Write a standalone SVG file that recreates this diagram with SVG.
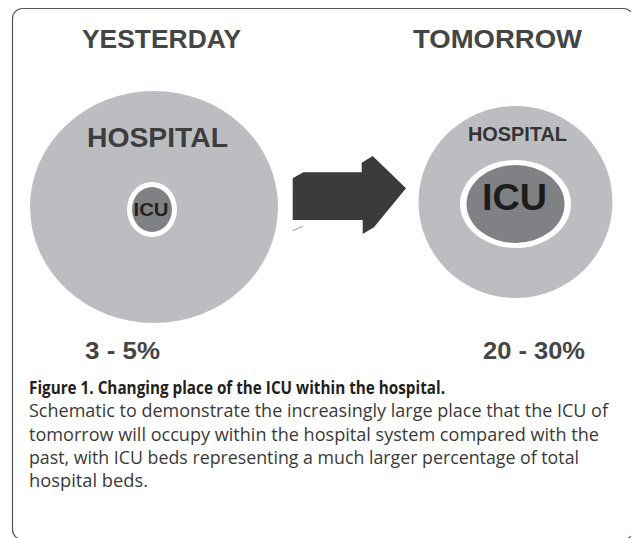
<svg xmlns="http://www.w3.org/2000/svg" width="631" height="538" viewBox="0 0 631 538">
  <style>
    .frame { fill: #ffffff; stroke: #555555; stroke-width: 1.2; }
    .hosp { fill: #bcbdc0; }
    .ring { fill: #ffffff; }
    .icu { fill: #808184; }
    .head { font-family: "Liberation Sans", Arial, sans-serif; font-weight: bold; fill: #454545; text-anchor: middle; }
    .lbl { font-family: "Liberation Sans", Arial, sans-serif; font-weight: bold; text-anchor: middle; }
    .cap { font-family: "Open Sans", "Noto Sans", sans-serif; font-size: 18px; fill: #3a3a3a; }
    .capb { font-weight: bold; fill: #231f20; }
    .arrow { fill: #3b3b3b; }
  </style>

  <!-- Panel frame; right and bottom edges run just past the canvas -->
  <rect class="frame" x="12.5" y="8.5" width="621" height="531" rx="10" ry="10"/>

  <!-- Yesterday: small ICU inside the hospital -->
  <g id="yesterday">
    <text class="head" x="161.5" y="47.5" font-size="25" textLength="159" lengthAdjust="spacingAndGlyphs">YESTERDAY</text>
    <ellipse class="hosp" cx="154" cy="207" rx="124" ry="116"/>
    <text class="lbl" x="157.5" y="147" font-size="28" fill="#3d3d3d" textLength="141" lengthAdjust="spacingAndGlyphs">HOSPITAL</text>
    <ellipse class="ring" cx="152" cy="209.5" rx="25" ry="27.5"/>
    <ellipse class="icu" cx="152" cy="209.5" rx="20" ry="22.5"/>
    <text class="lbl" x="151" y="216" font-size="19" fill="#222222" textLength="35" lengthAdjust="spacingAndGlyphs">ICU</text>
    <text class="head" x="122.5" y="359" font-size="24" textLength="75" lengthAdjust="spacingAndGlyphs">3 - 5%</text>
  </g>

  <!-- Tomorrow: large ICU inside the hospital -->
  <g id="tomorrow">
    <text class="head" x="497.5" y="47.5" font-size="26" textLength="169" lengthAdjust="spacingAndGlyphs">TOMORROW</text>
    <ellipse class="hosp" cx="515.5" cy="202" rx="97" ry="96"/>
    <text class="lbl" x="517.5" y="141" font-size="19.5" fill="#333333" textLength="99" lengthAdjust="spacingAndGlyphs">HOSPITAL</text>
    <ellipse class="ring" cx="515.5" cy="204" rx="55.5" ry="44"/>
    <ellipse class="icu" cx="515.5" cy="204" rx="49" ry="39"/>
    <text class="lbl" x="514.5" y="210" font-size="37" fill="#1c1c1c" textLength="65" lengthAdjust="spacingAndGlyphs">ICU</text>
    <text class="head" x="534" y="359" font-size="24" textLength="102" lengthAdjust="spacingAndGlyphs">20 - 30%</text>
  </g>

  <!-- Block arrow from yesterday to tomorrow -->
  <g id="connectors">
    <polygon class="arrow" points="292.7,178.3 303.3,172.3 361.7,172.3 361.7,162.7 372.7,156 406,188.3 374,227.3 362.7,234 362.7,220 292.7,220"/>
    <line x1="292.7" y1="230.7" x2="303.3" y2="226" stroke="#a8a8a8" stroke-width="1.2"/>
  </g>

  <!-- Figure caption -->
  <g id="caption">
    <text class="cap capb" x="29" y="394" textLength="416" lengthAdjust="spacingAndGlyphs">Figure 1. Changing place of the ICU within the hospital.</text>
    <text class="cap" x="29" y="417" textLength="579" lengthAdjust="spacingAndGlyphs">Schematic to demonstrate the increasingly large place that the ICU of</text>
    <text class="cap" x="29" y="440.5" textLength="570" lengthAdjust="spacingAndGlyphs">tomorrow will occupy within the hospital system compared with the</text>
    <text class="cap" x="29" y="464" textLength="550" lengthAdjust="spacingAndGlyphs">past, with ICU beds representing a much larger percentage of total</text>
    <text class="cap" x="29" y="487" textLength="119" lengthAdjust="spacingAndGlyphs">hospital beds.</text>
  </g>
</svg>
